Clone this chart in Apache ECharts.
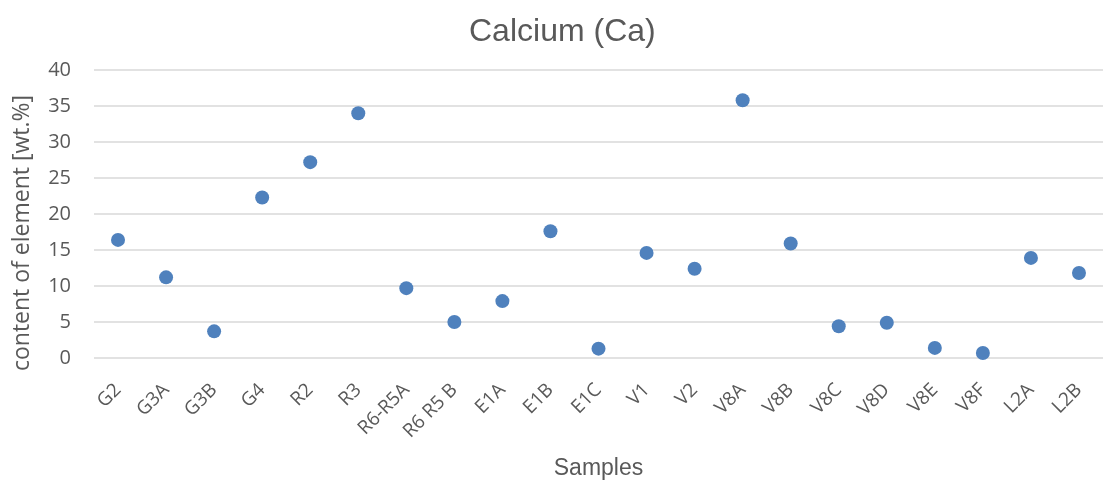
<!DOCTYPE html>
<html>
<head>
<meta charset="utf-8">
<script src="https://cdn.jsdelivr.net/npm/echarts@6/dist/echarts.min.js"></script>
<style>
  html, body { margin: 0; padding: 0; background: #fff; }
  #chart { width: 1105px; height: 485px; }
</style>
</head>
<body>
<div id="chart"></div>
<script>
// Calcium content per sample
const samples = ['G2', 'G3A', 'G3B', 'G4', 'R2', 'R3', 'R6-R5A', 'R6 R5 B', 'E1A', 'E1B', 'E1C',
  'V1', 'V2', 'V8A', 'V8B', 'V8C', 'V8D', 'V8E', 'V8F', 'L2A', 'L2B'];
const calcium = [16.4, 11.2, 3.7, 22.3, 27.2, 34.0, 9.7, 5.0, 7.9, 17.6, 1.3,
  14.6, 12.4, 35.8, 15.9, 4.4, 4.9, 1.4, 0.7, 13.9, 11.8];
const yTicks = [0, 5, 10, 15, 20, 25, 30, 35, 40];

const chart = echarts.init(document.getElementById('chart'));
chart.setOption({
  animation: false,
  title: {
    text: 'Calcium (Ca)',
    left: 464,
    top: 11,
    textStyle: { fontFamily: 'Liberation Sans', fontSize: 32, fontWeight: 'normal', color: '#595959' }
  },
  grid: { left: 94, right: 2, top: 70, bottom: 126 },
  xAxis: {
    type: 'category',
    data: samples,
    name: 'Samples',
    nameLocation: 'middle',
    nameGap: 99,
    nameTextStyle: { fontFamily: 'Liberation Sans', fontSize: 23, color: '#595959' },
    axisLine: { show: false },
    axisTick: { show: false },
    axisLabel: {
      rotate: 45,
      margin: 29,
      interval: 0,
      fontFamily: 'Open Sans',
      fontSize: 19,
      color: '#595959'
    }
  },
  yAxis: {
    type: 'value',
    min: yTicks[0],
    max: yTicks[yTicks.length - 1],
    interval: 5,
    name: 'content of element [wt.%]',
    nameLocation: 'middle',
    nameGap: 60,
    nameTextStyle: { fontFamily: 'Open Sans', fontSize: 23, color: '#595959', padding: [0, 38, 0, 0] },
    axisLine: { show: false },
    axisTick: { show: false },
    axisLabel: { margin: 23, fontFamily: 'Open Sans', fontSize: 20, color: '#595959' },
    splitLine: { lineStyle: { color: '#d9d9d9', width: 1.5 } }
  },
  series: [{
    type: 'scatter',
    data: calcium,
    symbol: 'circle',
    symbolSize: 14,
    itemStyle: { color: '#4f81bd', opacity: 1 }
  }]
});
</script>
</body>
</html>
